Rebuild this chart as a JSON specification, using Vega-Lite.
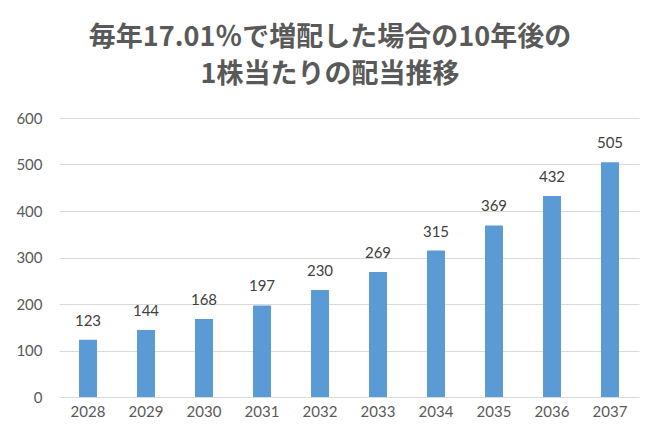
{
  "$schema": "https://vega.github.io/schema/vega-lite/v6.json",
  "autosize": "none",
  "padding": {"left": 59, "top": 118, "right": 23, "bottom": 50},
  "width": 580,
  "height": 279,
  "background": "white",
  "title": {
    "text": ["毎年17.01％で増配した場合の10年後の", "1株当たりの配当推移"],
    "font": "Noto Sans CJK JP",
    "fontWeight": "bold",
    "fontSize": 27,
    "lineHeight": 37,
    "color": "#595959",
    "anchor": "middle",
    "dx": -19,
    "offset": 22
  },
  "data": {
    "values": [
      {"year": "2028", "value": 123},
      {"year": "2029", "value": 144},
      {"year": "2030", "value": 168},
      {"year": "2031", "value": 197},
      {"year": "2032", "value": 230},
      {"year": "2033", "value": 269},
      {"year": "2034", "value": 315},
      {"year": "2035", "value": 369},
      {"year": "2036", "value": 432},
      {"year": "2037", "value": 505}
    ]
  },
  "encoding": {
    "x": {
      "field": "year",
      "type": "nominal",
      "title": null,
      "scale": {"paddingInner": 0.69, "paddingOuter": 0.345},
      "axis": {
        "labelAngle": 0,
        "domain": false,
        "ticks": false,
        "labelFont": "Lato",
        "labelFontSize": 15,
        "labelColor": "#595959",
        "labelPadding": 7
      }
    },
    "y": {
      "field": "value",
      "type": "quantitative",
      "title": null,
      "scale": {"domain": [0, 600]},
      "axis": {
        "values": [0, 100, 200, 300, 400, 500, 600],
        "domain": false,
        "ticks": false,
        "grid": true,
        "gridColor": "#d9d9d9",
        "gridWidth": 1,
        "labelFont": "Lato",
        "labelFontSize": 15,
        "labelColor": "#595959",
        "labelPadding": 17
      }
    }
  },
  "layer": [
    {"mark": {"type": "bar", "color": "#5b9bd5"}},
    {
      "mark": {
        "type": "text",
        "baseline": "bottom",
        "dy": -11,
        "font": "Lato",
        "fontSize": 15,
        "color": "#404040"
      },
      "encoding": {"text": {"field": "value", "type": "quantitative"}}
    }
  ],
  "config": {"view": {"stroke": null}}
}
